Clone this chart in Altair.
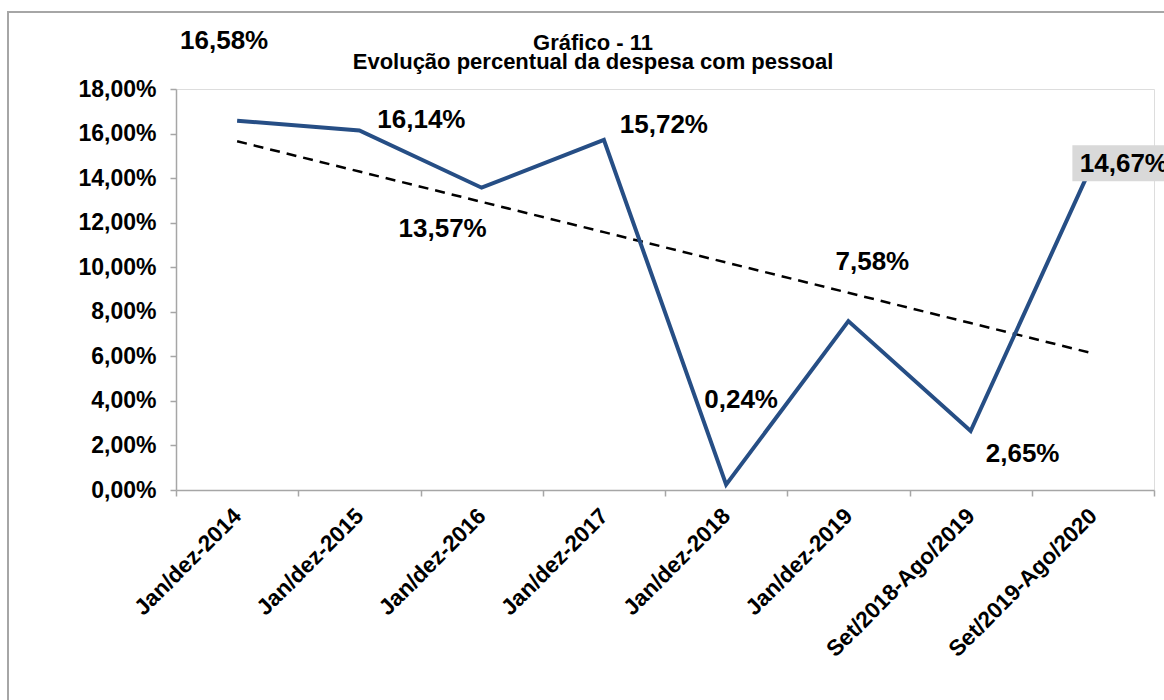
import altair as alt
import pandas as pd
import numpy as np

# ---- data ----
categories = ["Jan/dez-2014", "Jan/dez-2015", "Jan/dez-2016", "Jan/dez-2017",
              "Jan/dez-2018", "Jan/dez-2019", "Set/2018-Ago/2019", "Set/2019-Ago/2020"]
values = [16.58, 16.14, 13.57, 15.72, 0.24, 7.58, 2.65, 14.67]
y_ticks = [0, 2, 4, 6, 8, 10, 12, 14, 16, 18]
title_lines = ["Gráfico - 11", "Evolução percentual da despesa com pessoal"]

# ---- layout of the data labels (pixel offsets from each point) ----
label_dx = [-13, 62, -39, 60, 15, 24, 52, 31]
label_dy = [-72, -2, 49, -7, -77, -51, 31, 9]
# title line positions (pixels, relative to the plot's top-left corner)
title_x = 417
title_y = [-39, -20]

FONT = "Liberation Sans"
LINE_COLOR = "#264E85"
AXIS_COLOR = "#A6A6A6"

# linear trend (Excel-style linear trendline) computed from the series
idx = np.arange(1, len(values) + 1)
slope, intercept = np.polyfit(idx, values, 1)
trend = intercept + slope * idx

df = pd.DataFrame({"cat": categories, "valor": values, "tendencia": trend})

x_enc = alt.X(
    "cat:N", sort=categories,
    scale=alt.Scale(type="band", paddingInner=0, paddingOuter=0),
    axis=alt.Axis(
        title=None, labelAngle=-45, labelAlign="right", labelBaseline="middle",
        labelFont=FONT, labelFontSize=22.5, labelFontWeight="bold", labelColor="black",
        labelPadding=16, labelLimit=400, tickBand="extent", tickSize=6, tickColor=AXIS_COLOR,
        domainColor=AXIS_COLOR, domainWidth=1.5, tickWidth=1.5, grid=False,
    ),
)
y_enc = alt.Y(
    "valor:Q",
    scale=alt.Scale(domain=[0, 18], nice=False, zero=True),
    axis=alt.Axis(
        title=None, values=y_ticks,
        labelExpr="replace(format(datum.value, '.2f'), '.', ',') + '%'",
        labelFont=FONT, labelFontSize=23, labelFontWeight="bold", labelColor="black",
        labelPadding=14, tickSize=6, tickColor=AXIS_COLOR, tickWidth=1.5,
        domainColor=AXIS_COLOR, domainWidth=1.5, grid=False,
    ),
)

base = alt.Chart(df)
blank = alt.Data(values=[{}])

frame = alt.Chart(blank).mark_rect(
    fill="transparent", stroke=AXIS_COLOR, strokeWidth=2, clip=False
).encode(x=alt.value(-168), x2=alt.value(1060), y=alt.value(-77), y2=alt.value(660))

title_layers = [
    alt.Chart(blank).mark_text(
        text=t, font=FONT, fontSize=22, fontWeight="bold", color="black",
        align="center", baseline="alphabetic", clip=False,
    ).encode(x=alt.value(title_x), y=alt.value(title_y[i]))
    for i, t in enumerate(title_lines)
]

trend_line = base.mark_line(color="black", strokeWidth=2.5, strokeDash=[10, 7]).encode(
    x=x_enc, y=alt.Y("tendencia:Q", scale=alt.Scale(domain=[0, 18], nice=False))
)

series_line = base.mark_line(color=LINE_COLOR, strokeWidth=4).encode(x=x_enc, y=y_enc)

box = base.mark_point(
    shape="M-1,-0.35H1V0.35H-1Z", size=10609, filled=True, fill="#D9D9D9",
    opacity=1, strokeWidth=0, xOffset=31, yOffset=0,
).encode(x=x_enc, y=y_enc).transform_filter(alt.datum.cat == categories[-1])

label_layers = []
for i, c in enumerate(categories):
    label_layers.append(
        base.transform_filter(alt.datum.cat == c)
        .transform_calculate(lbl="replace(format(datum.valor, '.2f'), '.', ',') + '%'")
        .mark_text(font=FONT, fontSize=26, fontWeight="bold", color="black",
                   align="center", baseline="alphabetic",
                   dx=label_dx[i], dy=label_dy[i], clip=False)
        .encode(x=x_enc, y=y_enc, text="lbl:N")
    )

chart = alt.layer(frame, *title_layers, trend_line, series_line, box, *label_layers).properties(
    width=978, height=401,
    padding={"left": 176, "top": 89, "right": 10, "bottom": 210},
    autosize=alt.AutoSizeParams(type="none"),
).configure_view(stroke=None).configure(background="white")

chart.save("out.html", embed_options={"renderer": "svg", "actions": False})
